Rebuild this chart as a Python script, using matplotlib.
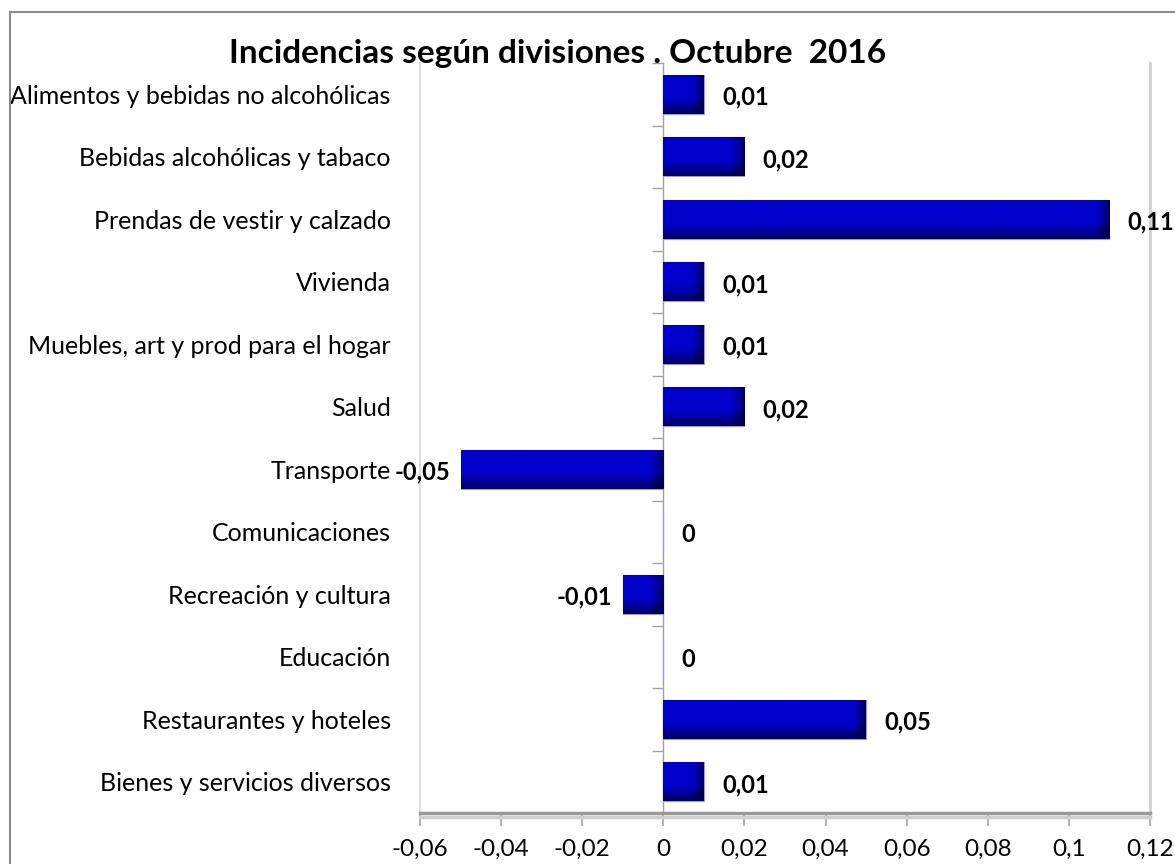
"""
Incidencias según divisiones, Octubre 2016 -- horizontal bar chart in the
style of the original Excel figure (gradient blue bars, labels at bar ends).
"""
import numpy as np
import matplotlib
matplotlib.use("Agg")
import matplotlib.pyplot as plt
from matplotlib.lines import Line2D

plt.rcParams["font.family"] = ["Lato", "DejaVu Sans"]

categories = [
    "Alimentos y bebidas no alcohólicas",
    "Bebidas alcohólicas y tabaco",
    "Prendas de vestir y calzado",
    "Vivienda",
    "Muebles, art y prod para el hogar",
    "Salud",
    "Transporte",
    "Comunicaciones",
    "Recreación y cultura",
    "Educación",
    "Restaurantes y hoteles",
    "Bienes y servicios diversos",
]
values = [0.01, 0.02, 0.11, 0.01, 0.01, 0.02, -0.05, 0.0, -0.01, 0.0, 0.05, 0.01]
value_labels = ["0,01", "0,02", "0,11", "0,01", "0,01", "0,02",
                "-0,05", "0", "-0,01", "0", "0,05", "0,01"]
xticks = [-0.06, -0.04, -0.02, 0, 0.02, 0.04, 0.06, 0.08, 0.1, 0.12]
xtick_labels = ["-0,06", "-0,04", "-0,02", "0", "0,02", "0,04",
                "0,06", "0,08", "0,1", "0,12"]
title = "Incidencias según divisiones . Octubre  2016"

W, H = 1175, 864
fig = plt.figure(figsize=(W / 100, H / 100), dpi=100)
fig.patch.set_facecolor("white")

# plot area in pixel terms: x 420..1150, y 63..813
ax = fig.add_axes([420 / W, 1 - 813 / H, 730 / W, 750 / H])
ax.set_xlim(-0.06, 0.12)
ax.set_ylim(len(categories) - 0.5, -0.5)

ypos = np.arange(len(categories))
bars = ax.barh(ypos, values, height=0.62, color="#0000c8",
               edgecolor="#9a9ae0", linewidth=0.8, zorder=2)

# gradient fill: darker towards the bottom edge and the right end
px_per_unit = 730 / 0.18
for b in bars:
    x0, y0, w, h = b.get_x(), b.get_y(), b.get_width(), b.get_height()
    if w == 0:
        continue
    ny, nx = 40, 200
    wpx = abs(w) * px_per_unit
    t = np.linspace(0, 1, ny)[:, None]
    s = np.linspace(0, 1, nx)[None, :]
    vert = np.clip((t - 0.55) / 0.45, 0, 1) ** 1.4
    edge = min(0.9, 14 / max(wpx, 1))
    horiz = np.clip((s - (1 - edge)) / edge, 0, 1) ** 1.5
    dark = np.clip(vert * 0.55 + horiz * 0.55, 0, 0.6)
    img = np.zeros((ny, nx, 3))
    img[..., 2] = 0.80 * (1 - dark)
    left, right = min(x0, x0 + w), max(x0, x0 + w)
    ax.imshow(img, extent=[left, right, y0 + h, y0], aspect="auto",
              interpolation="bilinear", zorder=2.5)

ax.set_xlim(-0.06, 0.12)
ax.set_ylim(len(categories) - 0.5, -0.5)

# value labels at the bar ends
for y, v, lab in zip(ypos, values, value_labels):
    if v < 0:
        ax.text(v - 0.0025, y + 0.05, lab, ha="right", va="center",
                fontsize=17, fontweight="bold", color="black", zorder=4,
                clip_on=False)
    else:
        ax.text(v + 0.0045, y + 0.05, lab, ha="left", va="center",
                fontsize=17, fontweight="bold", color="black", zorder=4,
                clip_on=False)

# category labels on the left, no tick marks there
ax.set_yticks(ypos)
ax.set_yticklabels(categories, fontsize=18)
ax.tick_params(axis="y", length=0, pad=21)

# x axis: grey line with downward ticks
ax.set_xticks(xticks)
ax.set_xticklabels(xtick_labels, fontsize=17.5)
ax.tick_params(axis="x", length=9, width=1.2, color="#a6a6a6",
               direction="out", pad=9.5)

ax.spines["top"].set_visible(False)
ax.spines["left"].set_color("#dddddd")
ax.spines["right"].set_color("#d0d0d0")
ax.spines["right"].set_linewidth(2)
ax.spines["left"].set_linewidth(1.5)
ax.spines["bottom"].set_color("#9a9a9a")
ax.spines["bottom"].set_linewidth(2.5)
ax.spines["bottom"].set_zorder(3)

# vertical axis through zero with ticks between categories
zax = ax.secondary_yaxis(1 / 3)
zax.set_yticks(np.arange(len(categories) + 1) - 0.5)
zax.set_yticklabels([])
zax.tick_params(axis="y", length=8, width=1, color="#a0a0a0", direction="out")
zax.spines["left"].set_color("#a0a0a0")
zax.spines["left"].set_linewidth(1)

# faint shadow under the x axis
fig.add_artist(Line2D([420 / W, 1150 / W], [1 - 817 / H, 1 - 817 / H],
                      color="#cfcfcf", linewidth=2.5))

# chart-area border (left and top edges are visible)
fig.add_artist(Line2D([10 / W, 10 / W], [0, 1 - 12 / H],
                      color="#8c8c8c", linewidth=1.5))
fig.add_artist(Line2D([10 / W, 1], [1 - 12 / H, 1 - 12 / H],
                      color="#8c8c8c", linewidth=1.5))

fig.text(558 / W, 1 - 54 / H, title, ha="center", va="center",
         fontsize=24, fontweight="bold", color="black")

fig.savefig("out.png", dpi=100, facecolor="white")
